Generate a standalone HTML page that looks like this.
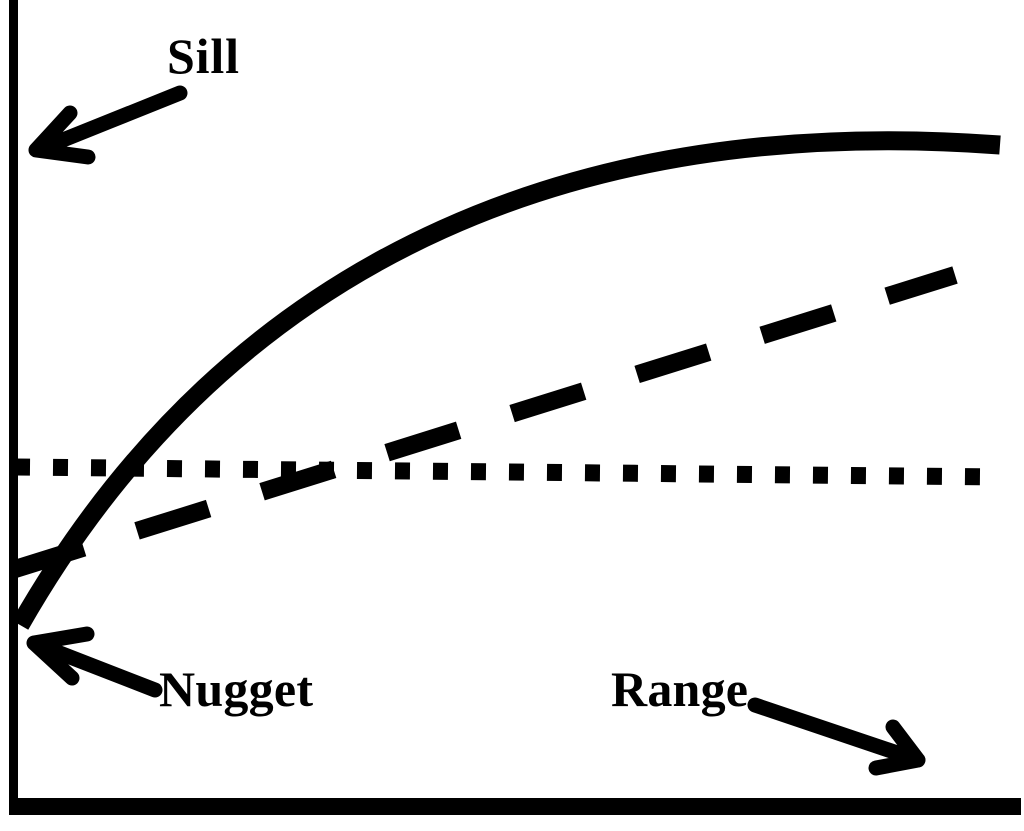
<!DOCTYPE html>
<html><head><style>html,body{margin:0;padding:0;background:#fff}svg{display:block}</style></head>
<body>
<svg width="1024" height="831" viewBox="0 0 1024 831" xmlns="http://www.w3.org/2000/svg">
<rect x="9" y="0" width="9" height="812" fill="#000"/>
<rect x="9" y="798" width="1012" height="17" fill="#000"/>
<path d="M20,625 C240,240 600,115 1000,145" fill="none" stroke="#000" stroke-width="19"/>
<line x1="12" y1="570" x2="955" y2="275" stroke="#000" stroke-width="18" stroke-dasharray="75 56"/>
<line x1="15" y1="467" x2="1000" y2="477" stroke="#000" stroke-width="17" stroke-dasharray="15 23"/>
<g fill="none" stroke="#000" stroke-width="15" stroke-linecap="round" stroke-linejoin="round">
<path d="M180,93 L38,150 M70,113 L36,150 L88,157"/>
<path d="M155,690 L34,643 M87,634 L34,643 L72,678"/>
<path d="M755,705 L918,760 M876,768 L918,760 L893,727"/>
</g>
<g font-family="Liberation Serif, serif" font-weight="bold" fill="#000">
<text x="167" y="73" font-size="50" textLength="72">Sill</text>
<text x="159" y="706" font-size="50" textLength="154">Nugget</text>
<text x="611" y="706" font-size="50" textLength="137">Range</text>
</g>
</svg>
</body></html>
